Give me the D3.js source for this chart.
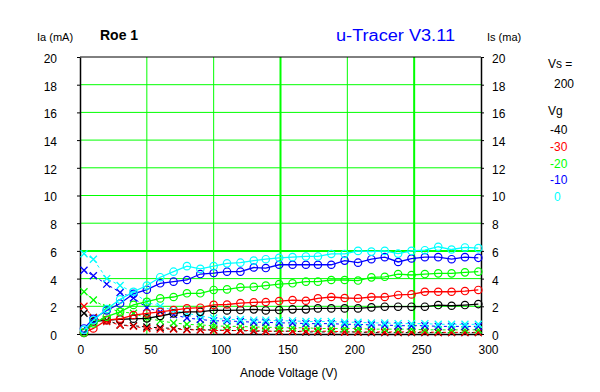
<!DOCTYPE html>
<html>
<head>
<meta charset="utf-8">
<script src="https://cdnjs.cloudflare.com/ajax/libs/d3/7.8.5/d3.min.js"></script>
<style>
  body { margin: 0; background: #fff; }
  text { font-family: "Liberation Sans", Arial, sans-serif; }
</style>
</head>
<body>
<svg id="chart" width="600" height="392"></svg>
<script>
// anode voltages (V)
const va = [3, 10, 20, 30, 40, 50, 60, 70, 80, 90, 100, 110, 120, 130, 139, 149, 159, 169, 178, 188,
            198, 208, 218, 228, 238, 248, 258, 268, 278, 288, 298];

// grid voltages and colours
const vgLabels = ["-40", "-30", "-20", "-10", "0"];
const vgColors = ["#000000", "#ff0000", "#00ff00", "#0000ff", "#00ffff"];

// plate current Ia (mA)
const iaM40 = [0.07, 0.9, 1.0, 1.05, 1.1, 1.13, 1.3, 1.49, 1.6, 1.6, 1.73, 1.7, 1.73, 1.78, 1.7, 1.73, 1.78, 1.78, 1.85, 1.85,
               1.85, 1.85, 1.92, 1.97, 1.97, 1.97, 1.97, 2.09, 2.04, 2.09, 2.16];
const iaM30 = [0.1, 0.4, 1.0, 1.1, 1.37, 1.49, 1.6, 1.73, 1.85, 1.9, 2.1, 2.13, 2.23, 2.29, 2.31, 2.38, 2.45, 2.4, 2.57, 2.67,
               2.6, 2.57, 2.67, 2.67, 2.82, 2.86, 3.05, 3.05, 3.05, 3.1, 3.18];
const iaM20 = [0.1, 0.77, 1.25, 1.6, 2.1, 2.33, 2.57, 2.67, 2.94, 2.94, 3.18, 3.22, 3.37, 3.4, 3.5, 3.6, 3.66, 3.78, 3.78, 3.9,
               3.9, 3.86, 4.09, 4.13, 4.33, 4.26, 4.33, 4.38, 4.38, 4.45, 4.5];
const iaM10 = [0.4, 1.1, 1.7, 2.2, 2.9, 3.2, 3.66, 3.78, 3.9, 4.33, 4.4, 4.5, 4.5, 4.8, 4.76, 5.0, 5.0, 5.0, 5.0, 5.0,
               5.3, 5.15, 5.4, 5.55, 5.2, 5.45, 5.55, 5.55, 5.4, 5.55, 5.5];
const ia0   = [0.3, 1.0, 1.8, 2.5, 3.05, 3.5, 4.1, 4.5, 4.9, 4.7, 4.9, 5.1, 5.15, 5.3, 5.4, 5.5, 5.55, 5.6, 5.6, 5.78,
               5.78, 6.0, 5.95, 6.0, 5.8, 6.0, 6.05, 6.3, 6.1, 6.25, 6.2];

// screen current Is (mA)
const isM40 = [1.5, 1.2, 1.0, 0.65, 0.6, 0.5, 0.45, 0.4, 0.35, 0.3, 0.3, 0.25, 0.25, 0.2, 0.2, 0.2, 0.2, 0.15, 0.15, 0.15,
               0.15, 0.15, 0.1, 0.1, 0.1, 0.1, 0.1, 0.1, 0.1, 0.1, 0.1];
const isM30 = [2.0, 1.15, 0.9, 0.65, 0.55, 0.4, 0.35, 0.35, 0.3, 0.3, 0.25, 0.25, 0.25, 0.25, 0.2, 0.2, 0.2, 0.2, 0.2, 0.2,
               0.15, 0.15, 0.15, 0.15, 0.15, 0.15, 0.15, 0.12, 0.12, 0.12, 0.12];
const isM20 = [3.05, 2.45, 1.9, 1.6, 1.5, 1.15, 0.95, 0.8, 0.7, 0.65, 0.6, 0.55, 0.55, 0.5, 0.5, 0.45, 0.45, 0.45, 0.4, 0.4,
               0.4, 0.4, 0.35, 0.35, 0.35, 0.35, 0.3, 0.3, 0.3, 0.3, 0.3];
const isM10 = [4.6, 4.2, 3.6, 3.0, 2.6, 1.9, 1.6, 1.4, 1.15, 1.05, 0.95, 0.95, 0.9, 0.85, 0.85, 0.8, 0.8, 0.75, 0.75, 0.75,
               0.7, 0.7, 0.65, 0.65, 0.6, 0.6, 0.6, 0.55, 0.55, 0.55, 0.55];
const is0   = [5.8, 5.4, 4.0, 3.5, 3.0, 2.3, 2.0, 1.7, 1.5, 1.3, 1.15, 1.05, 1.05, 1.0, 1.0, 0.95, 0.95, 0.9, 0.9, 0.9,
               0.85, 0.85, 0.8, 0.8, 0.75, 0.75, 0.75, 0.7, 0.7, 0.7, 0.7];

const iaSeries = [iaM40, iaM30, iaM20, iaM10, ia0];
const isSeries = [isM40, isM30, isM20, isM10, is0];

const xTicks = [0, 50, 100, 150, 200, 250, 300];
const yTicks = [0, 2, 4, 6, 8, 10, 12, 14, 16, 18, 20];

const svg = d3.select("#chart");

// zone du graphe
const pLeft = 80, pRight = 481, pTop = 57, pBottom = 334;

const x = d3.scaleLinear().domain([0, 300]).range([pLeft, pRight]);
const y = d3.scaleLinear().domain([0, 20]).range([pBottom, pTop]);

// grille verte
const thickX = [150, 250];
const thickY = [6];
svg.append("g").selectAll("line")
    .data(xTicks.slice(1, -1))
    .enter().append("line")
    .attr("x1", d => x(d)).attr("x2", d => x(d))
    .attr("y1", pTop).attr("y2", pBottom)
    .attr("stroke", "#00ff00")
    .attr("stroke-width", d => thickX.includes(d) ? 2 : 1);

svg.append("g").selectAll("line")
    .data(yTicks.slice(1, -1))
    .enter().append("line")
    .attr("x1", pLeft).attr("x2", pRight)
    .attr("y1", d => y(d)).attr("y2", d => y(d))
    .attr("stroke", "#00ff00")
    .attr("stroke-width", d => thickY.includes(d) ? 2 : 1);

// cadre
svg.append("line").attr("x1", pLeft).attr("x2", pRight).attr("y1", pTop).attr("y2", pTop)
    .attr("stroke", "#000").attr("stroke-width", 1);

// axes
const yLeft = svg.append("g")
    .attr("transform", `translate(${pLeft},0)`)
    .call(d3.axisLeft(y).tickValues(yTicks).tickSize(3).tickPadding(20).tickSizeOuter(0));
yLeft.selectAll("text").attr("text-anchor", "end").attr("dy", "0.45em");

const yRight = svg.append("g")
    .attr("transform", `translate(${pRight},0)`)
    .call(d3.axisRight(y).tickValues(yTicks).tickSize(3).tickPadding(8).tickSizeOuter(0));
yRight.selectAll("text").attr("dy", "0.45em");

const xAxis = svg.append("g")
    .attr("transform", `translate(0,${pBottom})`)
    .call(d3.axisBottom(x).tickValues(xTicks).tickSize(0).tickPadding(11).tickSizeOuter(0));
xAxis.selectAll("text").attr("text-anchor", "start").attr("dx", -3);

svg.selectAll(".domain").attr("stroke", "#000").attr("stroke-width", 1.5);
svg.selectAll(".tick line").attr("stroke", "#000");
svg.selectAll(".tick text")
    .attr("font-size", 12)
    .attr("font-family", "Liberation Sans, Arial, sans-serif")
    .attr("fill", "#000");

// courbes
const line = d3.line().x((d, i) => x(va[i])).y(d => y(d));

// courant d'écran : pointillés + croix
isSeries.forEach((s, k) => {
    const g = svg.append("g");
    g.append("path")
        .attr("d", line(s))
        .attr("fill", "none")
        .attr("stroke", vgColors[k])
        .attr("stroke-dasharray", "3,3");
    g.selectAll("path.m")
        .data(s)
        .enter().append("path")
        .attr("class", "m")
        .attr("d", (d, i) => {
            const cx = x(va[i]), cy = y(d), r = 3.5;
            return `M${cx - r},${cy - r}L${cx + r},${cy + r}M${cx - r},${cy + r}L${cx + r},${cy - r}`;
        })
        .attr("stroke", vgColors[k])
        .attr("stroke-width", 1.3)
        .attr("fill", "none");
});

// courant d'anode : trait plein + cercles
iaSeries.forEach((s, k) => {
    const g = svg.append("g");
    g.append("path")
        .attr("d", line(s))
        .attr("fill", "none")
        .attr("stroke", vgColors[k])
        .attr("stroke-width", 1.3);
    g.selectAll("circle")
        .data(s)
        .enter().append("circle")
        .attr("cx", (d, i) => x(va[i]))
        .attr("cy", d => y(d))
        .attr("r", 3.7)
        .attr("fill", "none")
        .attr("stroke", vgColors[k])
        .attr("stroke-width", 1.2);
});

// textes
svg.append("text").attr("x", 37).attr("y", 41).attr("font-size", 11).text("Ia (mA)");
svg.append("text").attr("x", 487).attr("y", 41).attr("font-size", 11).text("Is (ma)");
svg.append("text").attr("x", 100).attr("y", 40).attr("font-size", 14)
    .attr("font-weight", "bold").text("Roe 1");
svg.append("text").attr("x", 336).attr("y", 41).attr("font-size", 16)
    .attr("font-family", "DejaVu Sans, sans-serif")
    .attr("fill", "#0000ff").attr("textLength", 119).attr("lengthAdjust", "spacingAndGlyphs")
    .text("u-Tracer V3.11");
svg.append("text").attr("x", 240).attr("y", 377).attr("font-size", 12).text("Anode Voltage (V)");

// légende
svg.append("text").attr("x", 548).attr("y", 68).attr("font-size", 12).text("Vs =");
svg.append("text").attr("x", 554).attr("y", 88).attr("font-size", 12).text("200");
svg.append("text").attr("x", 548).attr("y", 115).attr("font-size", 12).text("Vg");
svg.append("g").selectAll("text")
    .data(vgLabels)
    .enter().append("text")
    .attr("x", d => d === "0" ? 554 : 550)
    .attr("y", (d, i) => 134 + i * 16.8)
    .attr("font-size", 12)
    .attr("fill", (d, i) => vgColors[i])
    .text(d => d);
</script>
</body>
</html>
